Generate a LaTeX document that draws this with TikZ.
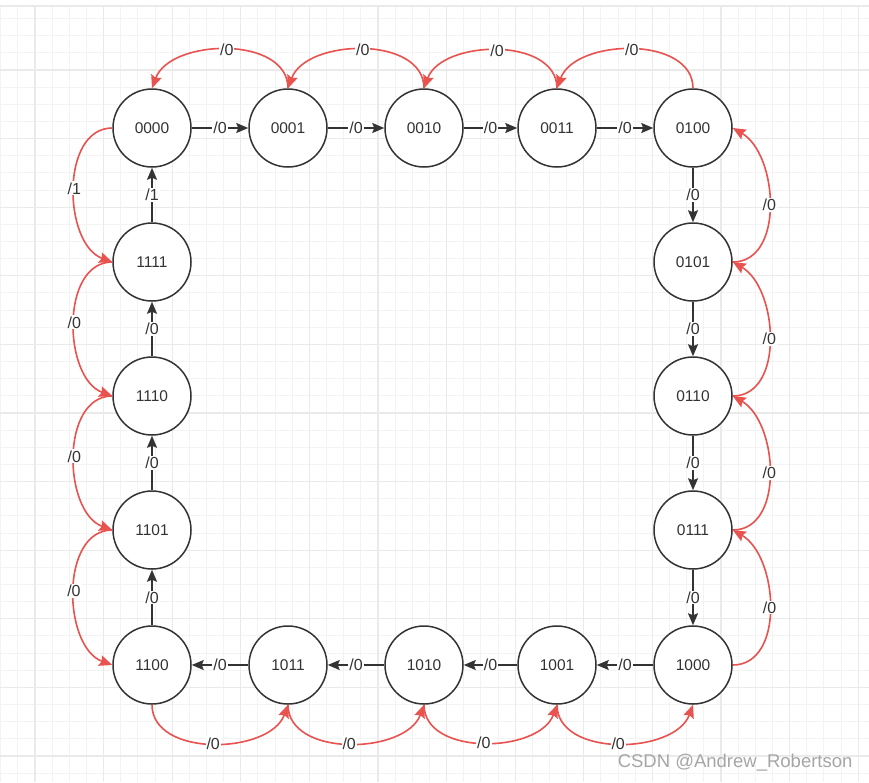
\documentclass[tikz,border=0pt]{standalone}
\usepackage{fontspec}
\setmainfont{Liberation Sans}
\usetikzlibrary{arrows.meta}
\definecolor{gridminor}{HTML}{F3F3F3}
\definecolor{gridmajor}{HTML}{EAEAEA}
\definecolor{edgered}{HTML}{E8524F}
\definecolor{ink}{HTML}{333333}

\begin{document}
\begin{tikzpicture}[x=1pt, y=1pt,
  every node/.style={text=ink, font=\fontsize{15.5}{18}\selectfont},
  state/.style={draw=ink, circle, line width=1.5pt, minimum size=78pt, inner sep=0pt, fill=white},
  fwd/.style={draw=ink, line width=1.5pt, -{Stealth[length=12pt, width=10pt, inset=2pt]}},
  back/.style={draw=edgered, line width=1.6pt, -{Stealth[length=13pt, width=11pt, inset=2pt]}},
  lbl/.style={fill=white, inner sep=1pt, font=\fontsize{16}{18}\selectfont}]
  \useasboundingbox (0,0) rectangle (869,-782);
  \fill[white] (0,0) rectangle (869,-782);

  % background grid
  \foreach \i in {0,...,50}
    \draw[gridminor, line width=1pt] ({0.7+17.15*\i},-6) -- ({0.7+17.15*\i},-782);
  \foreach \j in {1,...,45}
    \draw[gridminor, line width=1pt] (0,{-1.4-17.15*\j}) -- (869,{-1.4-17.15*\j});
  \foreach \i in {2,6,...,50}
    \draw[gridmajor, line width=1.2pt] ({0.7+17.15*\i},-6) -- ({0.7+17.15*\i},-782);
  \foreach \j in {4,8,...,44}
    \draw[gridmajor, line width=1.2pt] (0,{-1.4-17.15*\j}) -- (869,{-1.4-17.15*\j});
  \draw[gridmajor, line width=1.2pt] (0,-6) -- (869,-6);

  % states
  \node[state] (S0)  at (152,-128) {0000};
  \node[state] (S1)  at (288,-128) {0001};
  \node[state] (S2)  at (424,-128) {0010};
  \node[state] (S3)  at (557,-128) {0011};
  \node[state] (S4)  at (693,-128) {0100};
  \node[state] (S5)  at (693,-262) {0101};
  \node[state] (S6)  at (693,-396) {0110};
  \node[state] (S7)  at (693,-530) {0111};
  \node[state] (S8)  at (693,-665) {1000};
  \node[state] (S9)  at (557,-665) {1001};
  \node[state] (S10) at (424,-665) {1010};
  \node[state] (S11) at (288,-665) {1011};
  \node[state] (S12) at (152,-665) {1100};
  \node[state] (S13) at (152,-530) {1101};
  \node[state] (S14) at (152,-396) {1110};
  \node[state] (S15) at (152,-262) {1111};

  % counting ring
  \draw[fwd] (S0) -- node[lbl] {/0} (S1);
  \draw[fwd] (S1) -- node[lbl] {/0} (S2);
  \draw[fwd] (S2) -- node[lbl] {/0} (S3);
  \draw[fwd] (S3) -- node[lbl] {/0} (S4);
  \draw[fwd] (S4) -- node[lbl] {/0} (S5);
  \draw[fwd] (S5) -- node[lbl] {/0} (S6);
  \draw[fwd] (S6) -- node[lbl] {/0} (S7);
  \draw[fwd] (S7) -- node[lbl] {/0} (S8);
  \draw[fwd] (S8) -- node[lbl] {/0} (S9);
  \draw[fwd] (S9) -- node[lbl] {/0} (S10);
  \draw[fwd] (S10) -- node[lbl] {/0} (S11);
  \draw[fwd] (S11) -- node[lbl] {/0} (S12);
  \draw[fwd] (S12) -- node[lbl] {/0} (S13);
  \draw[fwd] (S13) -- node[lbl] {/0} (S14);
  \draw[fwd] (S14) -- node[lbl] {/0} (S15);
  \draw[fwd] (S15) -- node[lbl] {/1} (S0);

  % reverse ring, outside
  \draw[back] (S1.north) to[out=90, in=70] node[lbl] {/0} (S0.north);
  \draw[back] (S2.north) to[out=90, in=70] node[lbl] {/0} (S1.north);
  \draw[back] (S3.north) to[out=90, in=70] node[lbl] {/0} (S2.north);
  \draw[back] (S4.north) to[out=90, in=70] node[lbl] {/0} (S3.north);
  \draw[back] (S5.east) to[out=0, in=-30] node[lbl] {/0} (S4.east);
  \draw[back] (S6.east) to[out=0, in=-30] node[lbl] {/0} (S5.east);
  \draw[back] (S7.east) to[out=0, in=-30] node[lbl] {/0} (S6.east);
  \draw[back] (S8.east) to[out=0, in=-30] node[lbl] {/0} (S7.east);
  \draw[back] (S12.south) to[out=-90, in=-110] node[lbl] {/0} (S11.south);
  \draw[back] (S11.south) to[out=-90, in=-110] node[lbl] {/0} (S10.south);
  \draw[back] (S10.south) to[out=-90, in=-110] node[lbl] {/0} (S9.south);
  \draw[back] (S9.south) to[out=-90, in=-110] node[lbl] {/0} (S8.south);
  \draw[back] (S0.west) to[out=180, in=160] node[lbl] {/1} (S15.west);
  \draw[back] (S15.west) to[out=180, in=160] node[lbl] {/0} (S14.west);
  \draw[back] (S14.west) to[out=180, in=160] node[lbl] {/0} (S13.west);
  \draw[back] (S13.west) to[out=180, in=160] node[lbl] {/0} (S12.west);

  \node[anchor=east, text=gray!70, font=\fontsize{18.5}{22}\selectfont] (mark) at (856,-763) {CSDN @Andrew\_Robertson};
\end{tikzpicture}
\end{document}
